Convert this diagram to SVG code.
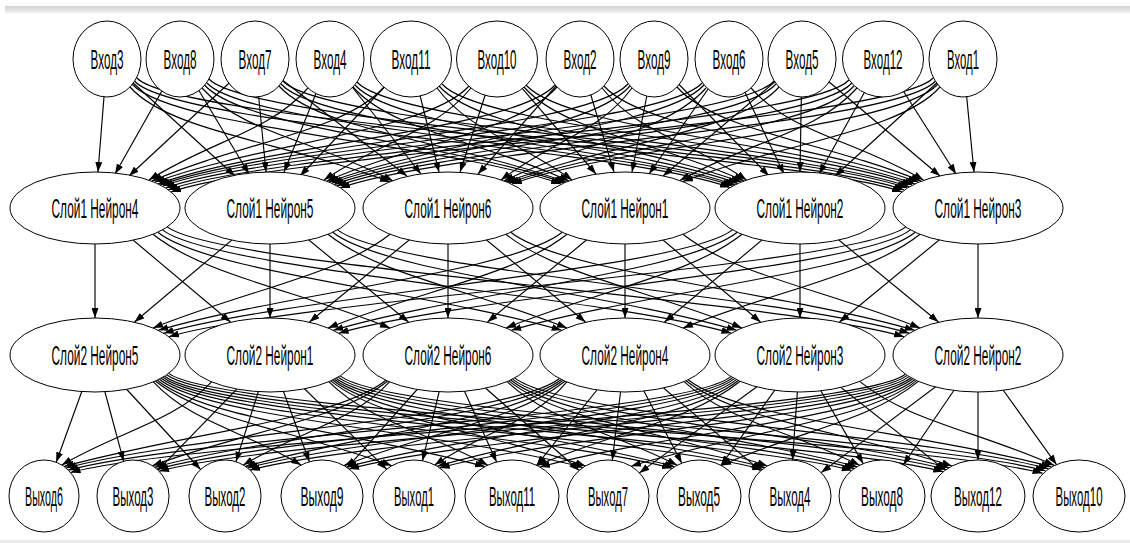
<svg xmlns="http://www.w3.org/2000/svg" width="1130" height="543" viewBox="0 0 1130 543">
<defs>
<linearGradient id="bar" x1="0" y1="0" x2="0" y2="1"><stop offset="0" stop-color="#d0d0d0"/><stop offset="1" stop-color="#f2f2f2"/></linearGradient>
<marker id="ah" viewBox="0 0 10 7" refX="10" refY="3.5" markerWidth="10" markerHeight="7" markerUnits="userSpaceOnUse" orient="auto"><path d="M0 0L10 3.5L0 7z" fill="#000"/></marker>
</defs>
<style>
.n ellipse{fill:#fff;stroke:#000;stroke-width:1}
.n text{font-family:"Liberation Sans",Arial,sans-serif;font-size:28px;fill:#000;text-anchor:middle}
#edges path{fill:none;stroke:#000;stroke-width:1.15;marker-end:url(#ah)}
</style>
<rect x="0" y="0" width="1130" height="543" fill="#fff"/>
<rect x="5" y="6" width="1125" height="7" fill="url(#bar)"/>
<rect x="0" y="540" width="1130" height="3" fill="#ececec"/>
<g id="edges">
<path d="M107 59L98 172"/>
<path d="M107 59L235 176"/>
<path d="M130 87C170 132 286 142 390 182"/>
<path d="M132 84C172 129 451 144 561 184"/>
<path d="M134.5 81C174.5 126 620 147.5 730 187.5"/>
<path d="M137 78C177 123 792 152 902 192"/>
<path d="M180 59L115 174"/>
<path d="M180 59L249 174"/>
<path d="M202 88C242 133 317 141 393 181"/>
<path d="M204.5 85C244.5 130 454 143 564 183"/>
<path d="M207 83C247 128 622.5 146 732.5 186"/>
<path d="M209 79C249 124 794 150 904 190"/>
<path d="M255 59L129 176"/>
<path d="M255 59L266 172"/>
<path d="M255 59L407 176"/>
<path d="M279 86C319 131 456 142 566 182"/>
<path d="M281 84C321 129 625 145 735 185"/>
<path d="M283 81C323 126 797 148 907 188"/>
<path d="M308 88C268 133 212.6 140 149 180"/>
<path d="M330 59L284 172"/>
<path d="M330 59L421 174"/>
<path d="M353 87C393 132 483 141 569 181"/>
<path d="M355 85C395 130 628 143.5 738 183.5"/>
<path d="M357 82C397 127 799.5 147 909.5 187"/>
<path d="M384 87C344 132 245 141 152 181"/>
<path d="M411 59L300 176"/>
<path d="M411 59L439 172"/>
<path d="M437 88C471 133 518 140 572 180"/>
<path d="M439 86C479 131 631 142 741 182"/>
<path d="M442 84C482 129 802 145 912 185"/>
<path d="M469 86C429 131 265 142 155 182"/>
<path d="M471 88C434 133 383 140 324 180"/>
<path d="M497 59L460 172"/>
<path d="M497 59L596 174"/>
<path d="M524 87C564 132 656 141 744 181"/>
<path d="M526 85C566 130 805 144 915 184"/>
<path d="M555 85C515 130 268 144 158 184"/>
<path d="M557 87C517 132 419 141 327 181"/>
<path d="M580 59L478 174"/>
<path d="M580 59L614 172"/>
<path d="M602 88C638 133 688.5 140 746.5 180"/>
<path d="M604 86C644 131 808 142 918 182"/>
<path d="M628 84C588 129 270 145 160 185"/>
<path d="M630 86C590 131 439 142 329 182"/>
<path d="M632 88C599 133 553 140 501 180"/>
<path d="M654 59L632 172"/>
<path d="M654 59L769 176"/>
<path d="M677 87C717 132 823 141 921 181"/>
<path d="M702 83C662 128 273 146 163 186"/>
<path d="M704 85C664 130 442 143 332 183"/>
<path d="M706 88C666 133 585 141 504 181"/>
<path d="M729 59L649 174"/>
<path d="M729 59L784 174"/>
<path d="M751 88C791 133 854.5 140 923.5 180"/>
<path d="M774 81C734 126 275.5 148 165.5 188"/>
<path d="M776 84C736 129 444 144.5 334 184.5"/>
<path d="M779 87C739 132 615 142 506 182"/>
<path d="M802 59L663 176"/>
<path d="M802 59L800 172"/>
<path d="M802 59L940 176"/>
<path d="M849 80C809 125 278 150 168 190"/>
<path d="M852 83C812 128 447 146 337 186"/>
<path d="M854 86C814 131 619 143 509 183"/>
<path d="M857 88C817 133 751 140.5 680 180.5"/>
<path d="M883 59L819 174"/>
<path d="M883 59L956 174"/>
<path d="M933 78C893 123 281 152 171 192"/>
<path d="M935.5 81C895.5 126 450 148 340 188"/>
<path d="M938 84C898 129 622 144 512 184"/>
<path d="M940 87C900 132 786 141.5 683 181.5"/>
<path d="M963 59L835 176"/>
<path d="M963 59L974 172"/>
<path d="M95 244L95 318"/>
<path d="M95 208L230.5 322"/>
<path d="M153 234.3C203 274.3 295 290 390 328"/>
<path d="M157.8 232.3C207.8 272.3 431.7 292.3 561.7 330.3"/>
<path d="M162.5 229.9C212.5 269.9 601.4 295.2 731.4 333.2"/>
<path d="M167.3 226.9C217.3 266.9 774.1 298.7 904.1 336.7"/>
<path d="M270 208L134.5 322"/>
<path d="M270 244L270 318"/>
<path d="M270 208L408.5 322"/>
<path d="M328 234.3C378 274.3 471.4 290 567 328"/>
<path d="M332.8 232.3C382.8 272.3 606.7 292.3 736.7 330.3"/>
<path d="M337.6 229.9C387.6 269.9 779.4 295.2 909.4 333.2"/>
<path d="M390 234.3C340 274.3 248 290 153 328"/>
<path d="M448 208L309.5 322"/>
<path d="M448 244L448 318"/>
<path d="M448 208L585.5 322"/>
<path d="M506 234.3C556 274.3 647.6 290 742 328"/>
<path d="M510.8 232.3C560.8 272.3 784.7 292.3 914.7 330.3"/>
<path d="M562.2 232.3C512.2 272.3 288.3 292.3 158.3 330.3"/>
<path d="M567 234.3C517 274.3 423.6 290 328 328"/>
<path d="M625 208L487.5 322"/>
<path d="M625 244L625 318"/>
<path d="M625 208L760.5 322"/>
<path d="M683 234.3C733 274.3 825 290 920 328"/>
<path d="M732.5 229.9C682.5 269.9 293.6 295.2 163.6 333.2"/>
<path d="M737.2 232.3C687.2 272.3 463.3 292.3 333.3 330.3"/>
<path d="M742 234.3C692 274.3 600.4 290 506 328"/>
<path d="M800 208L664.5 322"/>
<path d="M800 244L800 318"/>
<path d="M800 208L938.5 322"/>
<path d="M905.7 226.9C855.7 266.9 298.9 298.7 168.9 336.7"/>
<path d="M910.4 229.9C860.4 269.9 468.6 295.2 338.6 333.2"/>
<path d="M915.2 232.3C865.2 272.3 641.3 292.3 511.3 330.3"/>
<path d="M920 234.3C870 274.3 778 290 683 328"/>
<path d="M978 208L839.5 322"/>
<path d="M978 244L978 318"/>
<path d="M95 355L56.2 462.3"/>
<path d="M95 355L123.6 461.2"/>
<path d="M95 355L200.6 469.5"/>
<path d="M153.5 381.8C190.4 421.8 242.1 430 301.1 465"/>
<path d="M155.4 381C205.4 421 297.2 430.8 391.8 465.8"/>
<path d="M157.3 380.2C207.3 420.2 354.9 431.6 484.9 466.6"/>
<path d="M159.3 379.3C209.3 419.3 453 432.5 583 467.5"/>
<path d="M161.1 378.3C211.1 418.3 542.1 433.3 672.1 468.3"/>
<path d="M162.9 377.2C212.9 417.2 632.4 434.4 762.4 469.4"/>
<path d="M164.7 376.2C214.7 416.2 721.7 435.5 851.7 470.5"/>
<path d="M166.7 374.8C216.7 414.8 813.3 436.8 943.3 471.8"/>
<path d="M168.7 373.4C218.7 413.4 912.6 438.3 1042.6 473.3"/>
<path d="M211.5 381.8C174.1 421.8 121.7 430 61.8 465"/>
<path d="M270 355L158.1 470.2"/>
<path d="M270 355L235.9 461.7"/>
<path d="M270 355L309.4 461.8"/>
<path d="M270 355L386.6 469.2"/>
<path d="M328.8 381.7C368.6 421.7 424.2 430.2 487.8 465.2"/>
<path d="M330.8 380.9C380.8 420.9 483.6 431 585.5 466"/>
<path d="M332.6 380C382.6 420 544.6 431.7 674.6 466.7"/>
<path d="M334.4 379.2C384.4 419.2 634.9 432.6 764.9 467.6"/>
<path d="M336.2 378.2C386.2 418.2 724.3 433.4 854.3 468.4"/>
<path d="M338.2 377.1C388.2 417.1 816.1 434.5 946.1 469.5"/>
<path d="M340.2 375.9C390.2 415.9 915.4 435.8 1045.4 470.8"/>
<path d="M385.9 380.3C335.9 420.3 192.8 431.5 64 466.5"/>
<path d="M387.7 381C337.7 421 246.5 430.7 152.4 465.7"/>
<path d="M389.5 381.8C352.9 421.8 301.8 430 243.3 465"/>
<path d="M448 355L347.3 467.7"/>
<path d="M448 355L422.5 460.8"/>
<path d="M448 355L496.6 462"/>
<path d="M448 355L579.1 470.5"/>
<path d="M507 381.6C549.5 421.6 609.1 430.2 677.2 465.2"/>
<path d="M508.8 380.9C558.8 420.9 664 431 767.5 466"/>
<path d="M510.7 380C560.7 420 727 431.7 857 466.7"/>
<path d="M512.6 379.1C562.6 419.1 819.1 432.7 949.1 467.7"/>
<path d="M514.7 377.9C564.7 417.9 918.4 433.7 1048.4 468.7"/>
<path d="M559.4 378.5C509.4 418.5 196.2 433 66.2 468"/>
<path d="M561.2 379.5C511.2 419.5 284.7 432.2 154.7 467.2"/>
<path d="M563 380.3C513 420.3 372.5 431.4 245.5 466.4"/>
<path d="M564.9 381.2C514.9 421.2 432.4 430.6 344 465.6"/>
<path d="M566.8 381.9C533.8 421.9 487.5 429.9 434.7 464.9"/>
<path d="M625 355L536.6 465.3"/>
<path d="M625 355L612.3 460.2"/>
<path d="M625 355L681.8 463.2"/>
<path d="M625 355L760.6 470.9"/>
<path d="M684.1 381.6C728 421.6 789.4 430.3 859.6 465.3"/>
<path d="M686.1 380.8C736.1 420.8 845.6 431 952 466"/>
<path d="M688.1 379.8C738.1 419.8 921.3 431.9 1051.3 466.9"/>
<path d="M730.9 376.6C680.9 416.6 198.3 435.1 68.3 470.1"/>
<path d="M732.7 377.6C682.7 417.6 286.9 434.1 156.9 469.1"/>
<path d="M734.5 378.6C684.5 418.6 377.7 433 247.7 468"/>
<path d="M736.4 379.6C686.4 419.6 476.5 432.1 346.5 467.1"/>
<path d="M738.3 380.5C688.3 420.5 557.6 431.3 437.2 466.3"/>
<path d="M740.2 381.3C690.2 421.3 618.3 430.5 537 465.5"/>
<path d="M800 355L639.4 472.9"/>
<path d="M800 355L721 465.3"/>
<path d="M800 355L792.5 460.1"/>
<path d="M800 355L863.2 463.6"/>
<path d="M800 355L945.3 470.1"/>
<path d="M859.6 381.4C908.8 421.4 975.6 430.4 1054.2 465.4"/>
<path d="M905.3 374.2C855.3 414.2 200.5 437.5 70.5 472.5"/>
<path d="M907.1 375.4C857.1 415.4 289.1 436.2 159.1 471.2"/>
<path d="M908.9 376.6C858.9 416.6 380 435.1 250 470.1"/>
<path d="M910.9 377.7C860.9 417.7 479.1 434 349.1 469"/>
<path d="M912.7 378.7C862.7 418.7 569.7 432.9 439.7 467.9"/>
<path d="M914.7 379.7C864.7 419.7 669.9 432 539.9 467"/>
<path d="M916.6 380.6C866.6 420.6 745.2 431.2 631 466.2"/>
<path d="M918.4 381.4C869.1 421.4 800.1 430.4 721.2 465.4"/>
<path d="M978 355L821.2 472.6"/>
<path d="M978 355L903.3 464.7"/>
<path d="M978 392L978 460"/>
<path d="M978 355L1056.5 464.6"/>
</g>
<g id="in3" class="n"><ellipse cx="107" cy="59" rx="34" ry="38"/><text transform="translate(107 69) scale(0.42 1)" textLength="78.6" lengthAdjust="spacingAndGlyphs">Вход3</text></g>
<g id="in8" class="n"><ellipse cx="180" cy="59" rx="34" ry="38"/><text transform="translate(180 69) scale(0.42 1)" textLength="78.6" lengthAdjust="spacingAndGlyphs">Вход8</text></g>
<g id="in7" class="n"><ellipse cx="255" cy="59" rx="34" ry="38"/><text transform="translate(255 69) scale(0.42 1)" textLength="78.6" lengthAdjust="spacingAndGlyphs">Вход7</text></g>
<g id="in4" class="n"><ellipse cx="330" cy="59" rx="34" ry="38"/><text transform="translate(330 69) scale(0.42 1)" textLength="78.6" lengthAdjust="spacingAndGlyphs">Вход4</text></g>
<g id="in11" class="n"><ellipse cx="411" cy="59" rx="40.5" ry="38"/><text transform="translate(411 69) scale(0.42 1)" textLength="92.9" lengthAdjust="spacingAndGlyphs">Вход11</text></g>
<g id="in10" class="n"><ellipse cx="497" cy="59" rx="40.5" ry="38"/><text transform="translate(497 69) scale(0.42 1)" textLength="92.9" lengthAdjust="spacingAndGlyphs">Вход10</text></g>
<g id="in2" class="n"><ellipse cx="580" cy="59" rx="34" ry="38"/><text transform="translate(580 69) scale(0.42 1)" textLength="78.6" lengthAdjust="spacingAndGlyphs">Вход2</text></g>
<g id="in9" class="n"><ellipse cx="654" cy="59" rx="34" ry="38"/><text transform="translate(654 69) scale(0.42 1)" textLength="78.6" lengthAdjust="spacingAndGlyphs">Вход9</text></g>
<g id="in6" class="n"><ellipse cx="729" cy="59" rx="34" ry="38"/><text transform="translate(729 69) scale(0.42 1)" textLength="78.6" lengthAdjust="spacingAndGlyphs">Вход6</text></g>
<g id="in5" class="n"><ellipse cx="802" cy="59" rx="34" ry="38"/><text transform="translate(802 69) scale(0.42 1)" textLength="78.6" lengthAdjust="spacingAndGlyphs">Вход5</text></g>
<g id="in12" class="n"><ellipse cx="883" cy="59" rx="40.5" ry="38"/><text transform="translate(883 69) scale(0.42 1)" textLength="92.9" lengthAdjust="spacingAndGlyphs">Вход12</text></g>
<g id="in1" class="n"><ellipse cx="963" cy="59" rx="34" ry="38"/><text transform="translate(963 69) scale(0.42 1)" textLength="76.2" lengthAdjust="spacingAndGlyphs">Вход1</text></g>
<g id="l1n4" class="n"><ellipse cx="95" cy="208" rx="85" ry="36"/><text transform="translate(95 218) scale(0.42 1)" textLength="207" lengthAdjust="spacingAndGlyphs">Слой1 Нейрон4</text></g>
<g id="l1n5" class="n"><ellipse cx="270" cy="208" rx="85" ry="36"/><text transform="translate(270 218) scale(0.42 1)" textLength="207" lengthAdjust="spacingAndGlyphs">Слой1 Нейрон5</text></g>
<g id="l1n6" class="n"><ellipse cx="448" cy="208" rx="85" ry="36"/><text transform="translate(448 218) scale(0.42 1)" textLength="207" lengthAdjust="spacingAndGlyphs">Слой1 Нейрон6</text></g>
<g id="l1n1" class="n"><ellipse cx="625" cy="208" rx="85" ry="36"/><text transform="translate(625 218) scale(0.42 1)" textLength="207" lengthAdjust="spacingAndGlyphs">Слой1 Нейрон1</text></g>
<g id="l1n2" class="n"><ellipse cx="800" cy="208" rx="85" ry="36"/><text transform="translate(800 218) scale(0.42 1)" textLength="207" lengthAdjust="spacingAndGlyphs">Слой1 Нейрон2</text></g>
<g id="l1n3" class="n"><ellipse cx="978" cy="208" rx="85" ry="36"/><text transform="translate(978 218) scale(0.42 1)" textLength="207" lengthAdjust="spacingAndGlyphs">Слой1 Нейрон3</text></g>
<g id="l2n5" class="n"><ellipse cx="95" cy="355" rx="85" ry="37"/><text transform="translate(95 365) scale(0.42 1)" textLength="207" lengthAdjust="spacingAndGlyphs">Слой2 Нейрон5</text></g>
<g id="l2n1" class="n"><ellipse cx="270" cy="355" rx="85" ry="37"/><text transform="translate(270 365) scale(0.42 1)" textLength="207" lengthAdjust="spacingAndGlyphs">Слой2 Нейрон1</text></g>
<g id="l2n6" class="n"><ellipse cx="448" cy="355" rx="85" ry="37"/><text transform="translate(448 365) scale(0.42 1)" textLength="207" lengthAdjust="spacingAndGlyphs">Слой2 Нейрон6</text></g>
<g id="l2n4" class="n"><ellipse cx="625" cy="355" rx="85" ry="37"/><text transform="translate(625 365) scale(0.42 1)" textLength="207" lengthAdjust="spacingAndGlyphs">Слой2 Нейрон4</text></g>
<g id="l2n3" class="n"><ellipse cx="800" cy="355" rx="85" ry="37"/><text transform="translate(800 365) scale(0.42 1)" textLength="207" lengthAdjust="spacingAndGlyphs">Слой2 Нейрон3</text></g>
<g id="l2n2" class="n"><ellipse cx="978" cy="355" rx="85" ry="37"/><text transform="translate(978 365) scale(0.42 1)" textLength="207" lengthAdjust="spacingAndGlyphs">Слой2 Нейрон2</text></g>
<g id="out6" class="n"><ellipse cx="44" cy="496" rx="35" ry="36"/><text transform="translate(44 506) scale(0.42 1)" textLength="90.5" lengthAdjust="spacingAndGlyphs">Выход6</text></g>
<g id="out3" class="n"><ellipse cx="133" cy="496" rx="36" ry="36"/><text transform="translate(133 506) scale(0.42 1)" textLength="97.6" lengthAdjust="spacingAndGlyphs">Выход3</text></g>
<g id="out2" class="n"><ellipse cx="225" cy="496" rx="36" ry="36"/><text transform="translate(225 506) scale(0.42 1)" textLength="97.6" lengthAdjust="spacingAndGlyphs">Выход2</text></g>
<g id="out9" class="n"><ellipse cx="322" cy="496" rx="41" ry="36"/><text transform="translate(322 506) scale(0.42 1)" textLength="102.4" lengthAdjust="spacingAndGlyphs">Выход9</text></g>
<g id="out1" class="n"><ellipse cx="414" cy="496" rx="41" ry="36"/><text transform="translate(414 506) scale(0.42 1)" textLength="95.2" lengthAdjust="spacingAndGlyphs">Выход1</text></g>
<g id="out11" class="n"><ellipse cx="512" cy="496" rx="47" ry="36"/><text transform="translate(512 506) scale(0.42 1)" textLength="109.5" lengthAdjust="spacingAndGlyphs">Выход11</text></g>
<g id="out7" class="n"><ellipse cx="608" cy="496" rx="41" ry="36"/><text transform="translate(608 506) scale(0.42 1)" textLength="95.2" lengthAdjust="spacingAndGlyphs">Выход7</text></g>
<g id="out5" class="n"><ellipse cx="699" cy="496" rx="42" ry="36"/><text transform="translate(699 506) scale(0.42 1)" textLength="100" lengthAdjust="spacingAndGlyphs">Выход5</text></g>
<g id="out4" class="n"><ellipse cx="790" cy="496" rx="41" ry="36"/><text transform="translate(790 506) scale(0.42 1)" textLength="97.6" lengthAdjust="spacingAndGlyphs">Выход4</text></g>
<g id="out8" class="n"><ellipse cx="882" cy="496" rx="43" ry="36"/><text transform="translate(882 506) scale(0.42 1)" textLength="100" lengthAdjust="spacingAndGlyphs">Выход8</text></g>
<g id="out12" class="n"><ellipse cx="978" cy="496" rx="47" ry="36"/><text transform="translate(978 506) scale(0.42 1)" textLength="114.3" lengthAdjust="spacingAndGlyphs">Выход12</text></g>
<g id="out10" class="n"><ellipse cx="1079" cy="496" rx="46" ry="36"/><text transform="translate(1079 506) scale(0.42 1)" textLength="111.9" lengthAdjust="spacingAndGlyphs">Выход10</text></g>
</svg>
